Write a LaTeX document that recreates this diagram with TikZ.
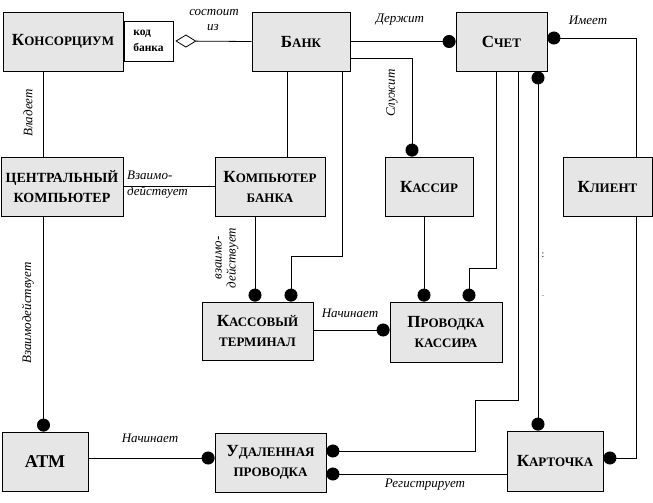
\documentclass[tikz,border=0pt]{standalone}
\usepackage{fontspec}
\setmainfont{Liberation Serif}
\usetikzlibrary{arrows.meta}
\definecolor{boxgray}{RGB}{230,230,230}
\newcommand{\biglet}[1]{{\fontsize{17}{17}\selectfont #1}}
\newcommand{\smlet}[1]{{\fontsize{13}{13}\selectfont #1}}
\tikzset{
  ent/.style={draw, line width=0.8pt, fill=boxgray, inner sep=0pt, align=center,
    font=\bfseries\fontsize{14}{20}\selectfont},
  rel/.style={font=\itshape\fontsize{13}{15}\selectfont, inner sep=0pt},
  conn/.style={line width=0.8pt},
  blobtip/.style={-{Circle[length=13pt]}},
}
\begin{document}
\begin{tikzpicture}[x=1pt,y=-1pt]
\useasboundingbox (0,0) rectangle (653,503);
% entities
\node[ent, minimum width=120pt, minimum height=59pt] (kons) at (63,41.5) {\biglet{К}\smlet{ОНСОРЦИУМ}};
\node[ent, fill=white, minimum width=49pt, minimum height=40pt, align=left, font=\bfseries\fontsize{11.5}{16}\selectfont] (kod) at (148.5,41) {код\\банка};
\node[ent, minimum width=98pt, minimum height=59pt] (bank) at (301,41.5) {\biglet{Б}\smlet{АНК}};
\node[ent, minimum width=91pt, minimum height=59pt] (schet) at (501.5,41.5) {\biglet{С}\smlet{ЧЕТ}};
\node[ent, minimum width=122pt, minimum height=59pt] (central) at (62,186.5) {ЦЕНТРАЛЬНЫЙ\\КОМПЬЮТЕР};
\node[ent, minimum width=110pt, minimum height=59pt] (kompbank) at (270,186.5) {\biglet{К}\smlet{ОМПЬЮТЕР}\\\smlet{БАНКА}};
\node[ent, minimum width=88pt, minimum height=59pt] (kassir) at (429,186.5) {\biglet{К}\smlet{АССИР}};
\node[ent, minimum width=89pt, minimum height=59pt] (client) at (607.5,186.5) {\biglet{К}\smlet{ЛИЕНТ}};
\node[ent, minimum width=111pt, minimum height=58pt] (terminal) at (257.5,331) {\biglet{К}\smlet{АССОВЫЙ}\\\smlet{ТЕРМИНАЛ}};
\node[ent, minimum width=112pt, minimum height=60pt] (provkas) at (446,332) {\biglet{П}\smlet{РОВОДКА}\\\smlet{КАССИРА}};
\node[ent, minimum width=86pt, minimum height=59pt, font=\bfseries\fontsize{18}{20}\selectfont] (atm) at (45,461.5) {АТМ};
\node[ent, minimum width=111pt, minimum height=59pt] (udal) at (270.5,462.5) {\biglet{У}\smlet{ДАЛЕННАЯ}\\\smlet{ПРОВОДКА}};
\node[ent, minimum width=96pt, minimum height=60pt] (kart) at (555,461) {\biglet{К}\smlet{АРТОЧКА}};
% helper coordinates
\coordinate (x43) at (43.5,0);
\coordinate (x287) at (287,0);
\coordinate (x255) at (255,0);
\coordinate (x291) at (291,0);
\coordinate (b1) at (342,256);
\coordinate (k1) at (412,58);
\coordinate (x424) at (424,0);
\coordinate (s1) at (496,268);
\coordinate (x469) at (469,0);
\coordinate (u1) at (518,400);
\coordinate (u2) at (475,400);
\coordinate (x538) at (538,0);
\coordinate (xk) at (636,0);
\coordinate (y474) at (0,474);
% connectors
\draw[conn] (kons.south -| x43) -- (central.north -| x43);
\draw[conn, {Diamond[open, length=21pt, width=13pt]}-] ([xshift=2pt]kod.east) -- (bank.west);
\draw[conn, blobtip] (bank.east) -- (schet.west);
\draw[conn, blobtip] (client.north -| xk) |- ([yshift=3.5pt]schet.east);
\draw[conn, blobtip] (client.south -| xk) |- ([yshift=3pt]kart.east);
\draw[conn] (bank.south -| x287) -- (kompbank.north -| x287);
\draw[conn] (central.east) -- (kompbank.west);
\draw[conn, blobtip] (bank.south -| b1) -- (b1) -| (terminal.north -| x291);
\draw[conn, blobtip] (kompbank.south -| x255) -- (terminal.north -| x255);
\draw[conn, blobtip] (bank.east |- k1) -- (k1) -- (kassir.north -| k1);
\draw[conn, blobtip] (kassir.south -| x424) -- (provkas.north -| x424);
\draw[conn, blobtip] (schet.south -| s1) -- (s1) -| (provkas.north -| x469);
\draw[conn, blobtip] ([yshift=1pt]terminal.east) -- ([yshift=2pt]provkas.west);
\draw[conn, blobtip] (schet.south -| u1) -- (u1) -- (u2) |- ([yshift=11.5pt]udal.east);
\draw[conn, {Circle[length=13pt]}-{Circle[length=13pt]}] (schet.south -| x538) -- (kart.north -| x538);
\draw[conn, blobtip] (central.south -| x43) -- (atm.north -| x43);
\draw[conn, blobtip] ([yshift=3.5pt]atm.east) -- ([yshift=4.5pt]udal.west);
\draw[conn, blobtip] (kart.west |- y474) -- (udal.east |- y474);
% labels
\node[rel, rotate=90] (lvl) at (28,113) {Владеет};
\node[rel] (lsost) at (214,13) {состоит};
\node[rel] (liz) at (213,28) {из};
\node[rel] (lder) at (400,20) {Держит};
\node[rel] (lim) at (588,20) {Имеет};
\node[rel, align=left, anchor=west, font=\itshape\fontsize{13}{16}\selectfont] (lvz1) at (127,185) {Взаимо-\\действует};
\node[rel, rotate=90, align=center, font=\itshape\fontsize{13}{14}\selectfont] (lvz2) at (227,258) {взаимо-\\действует};
\node[rel, rotate=90] (lsl) at (392,93) {Служит};
\node[rel, rotate=90] (lvz3) at (28,313) {Взаимодействует};
\node[rel] (lnach1) at (350,313) {Начинает};
\node[rel] (lnach2) at (150,438) {Начинает};
\node[rel] (lreg) at (425,485) {Регистрирует};
\node[font=\fontsize{10}{10}\selectfont, inner sep=0pt] (dots1) at (543,255) {:};
\node[font=\fontsize{8}{8}\selectfont, inner sep=0pt] (dots2) at (543,296) {.};
\end{tikzpicture}
\end{document}
